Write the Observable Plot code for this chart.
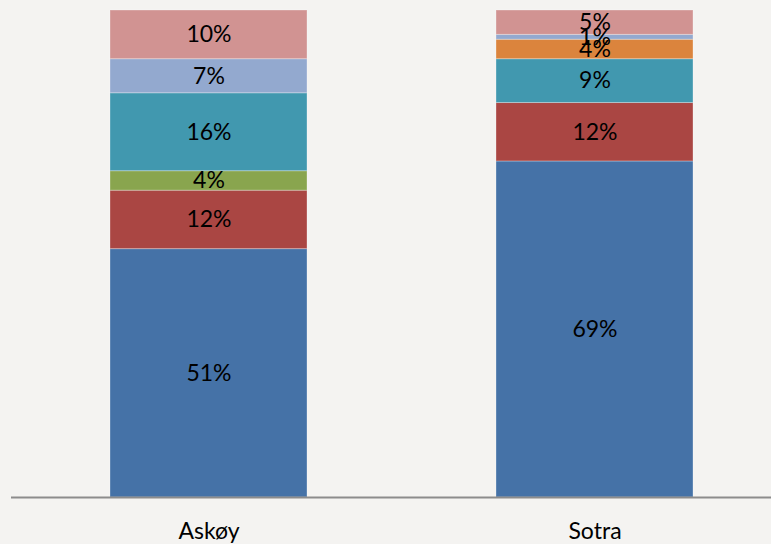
<!DOCTYPE html>
<html>
<head>
<meta charset="utf-8">
<script src="https://cdn.jsdelivr.net/npm/d3@7"></script>
<script src="https://cdn.jsdelivr.net/npm/@observablehq/plot@0.6"></script>
<style>
  html, body { margin: 0; padding: 0; background: #f4f3f1; }
  #chart svg { display: block; }
</style>
</head>
<body>
<div id="chart"></div>
<script>
const categories = ["Askøy", "Sotra"];
const series = ["S1", "S2", "S3", "S4", "S5", "S6", "S7"];
const colors = ["#4572a7", "#aa4643", "#89a54e", "#4198af", "#db843d", "#93a9cf", "#d19392"];
const askoyValues = [51, 12, 4, 16, 0, 7, 10];
const sotraValues = [69, 12, 0, 9, 4, 1, 5];

const valuesByCategory = [askoyValues, sotraValues];
const data = [];
categories.forEach((c, i) => {
  series.forEach((s, j) => {
    const v = valuesByCategory[i][j];
    if (v > 0) data.push({category: c, series: s, value: v, label: v + "%"});
  });
});

const chart = Plot.plot({
  width: 771,
  height: 544,
  marginLeft: 11,
  marginRight: 0,
  marginTop: 10,
  marginBottom: 47,
  style: {background: "#f4f3f1", fontFamily: "Lato, 'Open Sans', sans-serif"},
  x: {domain: categories, range: [15, 787], paddingInner: 0.49, paddingOuter: 0.245, label: null},
  y: {domain: [0, 100], axis: null},
  color: {domain: series, range: colors},
  marks: [
    Plot.barY(data, {x: "category", y: "value", z: "series", fill: "series", stroke: "#ffffff", strokeOpacity: 0.3, strokeWidth: 1, order: series}),
    Plot.text(data, Plot.stackY({x: "category", y: "value", z: "series", text: "label", order: series, fontSize: 23, fill: "#000"})),
    Plot.ruleY([0], {stroke: "#8c8c8c", strokeWidth: 2}),
    Plot.axisX({tickSize: 0, tickPadding: 25, fontSize: 23, fill: "#000"})
  ]
});
document.getElementById("chart").appendChild(chart);
</script>
</body>
</html>
